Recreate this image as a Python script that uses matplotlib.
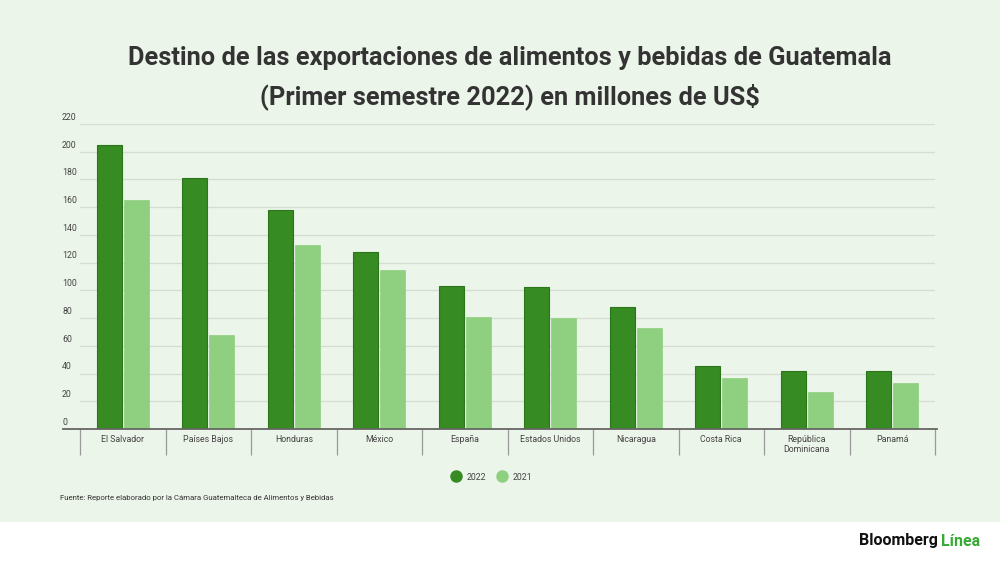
import numpy as np
import matplotlib.pyplot as plt
from matplotlib.lines import Line2D
from matplotlib.patches import Rectangle

paises = ["El Salvador", "Países Bajos", "Honduras", "México", "España",
          "Estados Unidos", "Nicaragua", "Costa Rica", "República\nDominicana", "Panamá"]
v2022 = [204.5, 181.3, 158.0, 128.0, 102.8, 102.5, 87.7, 45.6, 41.8, 41.5]
v2021 = [165.2, 67.5, 132.8, 114.8, 80.9, 80.0, 73.2, 36.7, 26.7, 32.9]
yticks = [0, 20, 40, 60, 80, 100, 120, 140, 160, 180, 200, 220]

fondo = "#ECF5E9"
verde1 = "#378B23"
verde2 = "#8FCF80"

plt.rcParams['font.family'] = ['Roboto', 'DejaVu Sans']

fig = plt.figure(figsize=(10, 5.62), dpi=100)
fig.patch.set_facecolor("white")
fig.patches.append(Rectangle((0, 40/562), 1, 1, transform=fig.transFigure,
                             facecolor=fondo, edgecolor="none", zorder=-10))

ax = fig.add_axes([0.080, 1-429/562, 0.855, 305/562])
ax.set_facecolor(fondo)
ax.patch.set_alpha(0)

x = np.arange(len(paises))
w = 0.292
d = 0.158
ax.bar(x - d, v2022, w, color=verde1, edgecolor="#2C761A", linewidth=0.8, zorder=3)
ax.bar(x + d, v2021, w, color=verde2, edgecolor=verde2, linewidth=0.5, zorder=3)

ax.set_xlim(-0.5, len(paises) - 0.5)
ax.set_ylim(0, 220)

# rejilla
for v in yticks[1:]:
    ax.axhline(v, color="#D5DDD3", linewidth=0.9, zorder=1)
ax.set_yticks([])
ytr = ax.get_yaxis_transform()
for v in yticks:
    ax.text(-0.021, v + 1.6, str(v), transform=ytr, ha="left", va="bottom",
            fontsize=6.3, color="#444444")

# linea base
ax.add_line(Line2D([-0.02, 1.002], [0, 0], transform=ytr, color="#666666",
                   linewidth=1.3, clip_on=False, zorder=4))

for s in ax.spines.values():
    s.set_visible(False)

ax.set_xticks(x)
ax.set_xticklabels(paises, fontsize=6.3, color="#444444", linespacing=1.25)
ax.set_xticks(np.arange(len(paises) + 1) - 0.5, minor=True)
ax.tick_params(axis="x", which="major", length=0, pad=4)
ax.tick_params(axis="x", which="minor", length=19, width=0.9, color="#9A9A9A")

# titulo
fig.text(0.51, 1-58/562, "Destino de las exportaciones de alimentos y bebidas de Guatemala",
         ha="center", va="center", fontsize=18.3, fontweight="bold", color="#333333")
fig.text(0.51, 1-97/562, "(Primer semestre 2022) en millones de US$",
         ha="center", va="center", fontsize=18.3, fontweight="bold", color="#333333")

# leyenda
h = [Line2D([], [], marker="o", linestyle="none", markersize=8, color=verde1, label="2022"),
     Line2D([], [], marker="o", linestyle="none", markersize=8, color=verde2, label="2021")]
fig.legend(handles=h, loc="center", bbox_to_anchor=(0.49, 1-477/562), ncol=2,
           frameon=False, fontsize=6.3, handletextpad=0.2, columnspacing=0.8,
           labelcolor="#444444")

fig.text(0.060, 1-498/562, "Fuente: Reporte elaborado por la Cámara Guatemalteca de Alimentos y Bebidas",
         ha="left", va="center", fontsize=5.6, color="#333333")

fig.text(0.9375, 1-541/562, "Bloomberg", ha="right", va="center", fontsize=11.5,
         fontweight="bold", color="#111111")
fig.text(0.9415, 1-541/562, "Línea", ha="left", va="center", fontsize=11.5,
         fontweight="bold", color="#3AA935")

fig.savefig("out.png", dpi=100, facecolor=fig.get_facecolor())
